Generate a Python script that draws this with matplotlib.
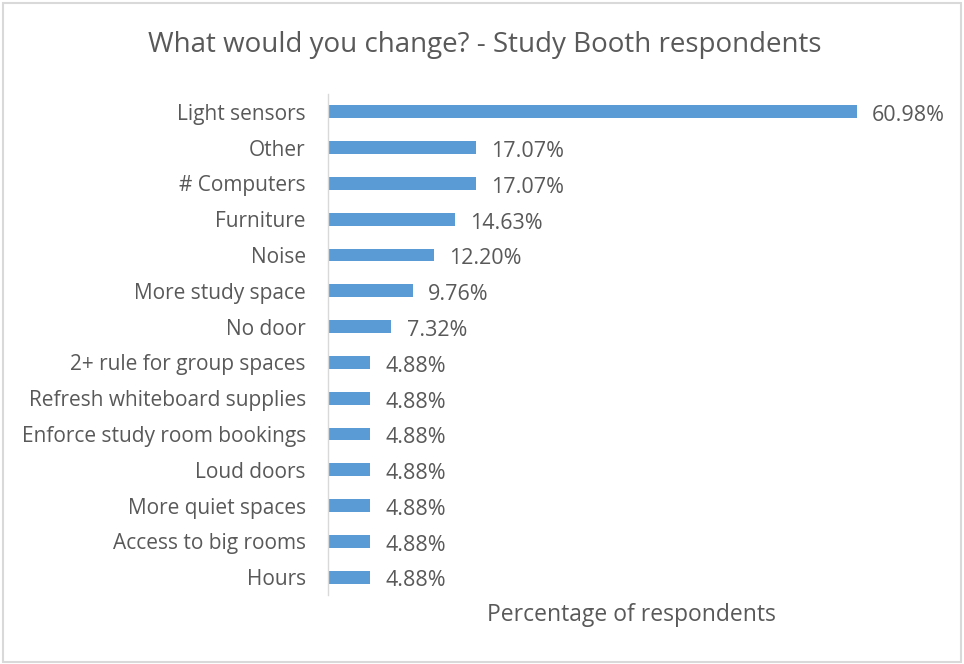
import matplotlib
matplotlib.use("Agg")
import matplotlib.pyplot as plt
from matplotlib.patches import Rectangle

categories = [
    "Light sensors", "Other", "# Computers", "Furniture", "Noise",
    "More study space", "No door", "2+ rule for group spaces",
    "Refresh whiteboard supplies", "Enforce study room bookings",
    "Loud doors", "More quiet spaces", "Access to big rooms", "Hours",
]
percentages = [60.98, 17.07, 17.07, 14.63, 12.20, 9.76, 7.32,
               4.88, 4.88, 4.88, 4.88, 4.88, 4.88, 4.88]
value_labels = ["60.98%", "17.07%", "17.07%", "14.63%", "12.20%", "9.76%",
                "7.32%", "4.88%", "4.88%", "4.88%", "4.88%", "4.88%",
                "4.88%", "4.88%"]

plt.rcParams["font.family"] = ["Open Sans", "DejaVu Sans"]
text_color = "#595959"
bar_color = "#5B9BD5"

fig = plt.figure(figsize=(9.64, 6.64), dpi=100)
fig.patch.set_facecolor("white")

# light outer frame around the chart
fig.add_artist(Rectangle((3 / 964, 2 / 664), 958 / 964, 659 / 664,
                         transform=fig.transFigure, fill=False,
                         edgecolor="#D9D9D9", linewidth=1.5))

ax = fig.add_axes([328 / 964, 69 / 664, 607 / 964, 501 / 664])
n = len(categories)
ypos = list(range(n))[::-1]
ax.barh(ypos, percentages, height=0.36, color=bar_color)

for y, v, lab in zip(ypos, percentages, value_labels):
    ax.annotate(lab, xy=(v, y), xytext=(11, -1), textcoords="offset points",
                va="center_baseline", ha="left", fontsize=15.5, color=text_color)

ax.set_xlim(0, 70)
ax.set_ylim(-0.5, n - 0.5)
ax.set_yticks(ypos)
ax.set_yticklabels(categories, fontsize=15, color=text_color)
ax.tick_params(axis="y", length=0, pad=16)
ax.set_xticks([])

for side in ("top", "right", "bottom"):
    ax.spines[side].set_visible(False)
ax.spines["left"].set_color("#D9D9D9")
ax.spines["left"].set_linewidth(1)

ax.set_xlabel("Percentage of respondents", fontsize=16.5, color=text_color,
              labelpad=6)

fig.text(485 / 964, 1 - 45 / 664, "What would you change? - Study Booth respondents",
         ha="center", va="center", fontsize=20, color=text_color)

fig.savefig("out.png", dpi=100, facecolor="white")
